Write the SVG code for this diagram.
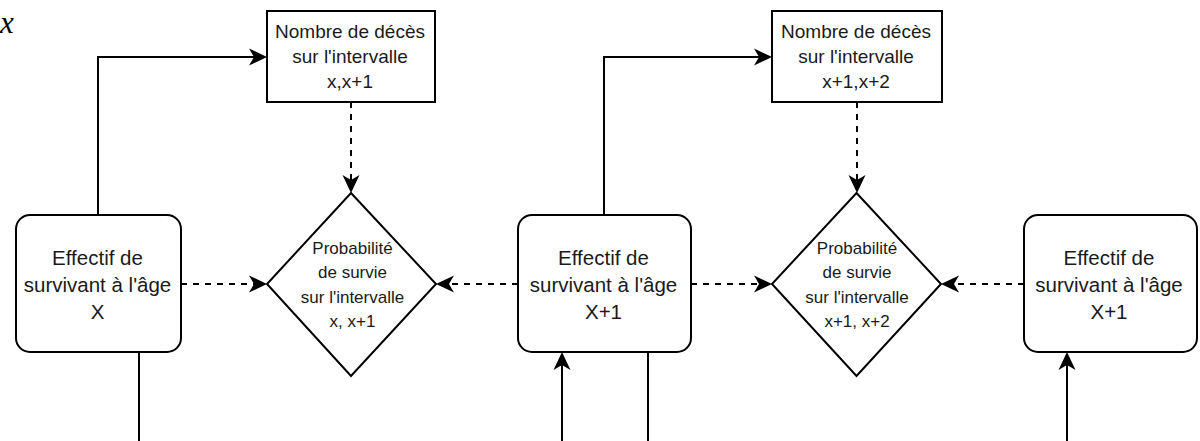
<svg xmlns="http://www.w3.org/2000/svg" width="1200" height="441" viewBox="0 0 1200 441">
<style>
  .shape { fill: #ffffff; stroke: #000000; stroke-width: 2; }
  .lbl { font-family: "Liberation Sans", Arial, sans-serif; fill: #1a1a1a; text-anchor: middle; }
  .big { font-size: 20.5px; }
  .mid { font-size: 19px; }
  .small { font-size: 17px; }
  .edge { fill: none; stroke: #000000; stroke-width: 2; }
  .dash { stroke-dasharray: 6 6; }
</style>
<defs>
  <marker id="arrow" markerUnits="userSpaceOnUse" markerWidth="24" markerHeight="24" viewBox="-2 -12 24 24" refX="12" refY="0" orient="auto" overflow="visible">
    <path d="M0,-8.5 L18,0 L0,8.5 L5,0 Z" fill="#000000" stroke="none"/>
  </marker>
</defs>
<rect width="1200" height="441" fill="#ffffff"/>

<text x="0" y="33" font-family="Liberation Serif, serif" font-style="italic" font-size="31" fill="#000">x</text>

<g id="connectors">
  <!-- solid up-right to top boxes -->
  <path class="edge" d="M98,215 V57 H261" marker-end="url(#arrow)"/>
  <path class="edge" d="M604,215 V57 H766" marker-end="url(#arrow)"/>
  <!-- dashed down from top boxes to diamonds -->
  <path class="edge dash" d="M351,102 V187" marker-end="url(#arrow)"/>
  <path class="edge dash" d="M857,102 V187" marker-end="url(#arrow)"/>
  <!-- dashed horizontals -->
  <path class="edge dash" d="M181,284 H261" marker-end="url(#arrow)"/>
  <path class="edge dash" d="M518,284 H442" marker-end="url(#arrow)"/>
  <path class="edge dash" d="M691,284 H766" marker-end="url(#arrow)"/>
  <path class="edge dash" d="M1024,284 H947" marker-end="url(#arrow)"/>
  <!-- bottom lines -->
  <path class="edge" d="M139,352 V441"/>
  <path class="edge" d="M562,441 V358" marker-end="url(#arrow)"/>
  <path class="edge" d="M648,352 V441"/>
  <path class="edge" d="M1067,441 V358" marker-end="url(#arrow)"/>
</g>

<g id="box-x">
  <rect class="shape" x="16" y="215" width="165" height="137" rx="14" ry="14"/>
  <text class="lbl big" x="97.5" y="265.3">Effectif de</text>
  <text class="lbl big" x="97.5" y="292.3">survivant à l'âge</text>
  <text class="lbl big" x="97.5" y="319.3">X</text>
</g>

<g id="deces-1">
  <rect class="shape" x="267" y="11" width="168" height="91"/>
  <text class="lbl mid" x="350" y="37.8">Nombre de décès</text>
  <text class="lbl mid" x="350" y="63.3">sur l'intervalle</text>
  <text class="lbl mid" x="350" y="88.3">x,x+1</text>
</g>

<g id="proba-1">
  <polygon class="shape" points="351,193 436,284 351,376 267,284"/>
  <text class="lbl small" x="352.5" y="253.5">Probabilité</text>
  <text class="lbl small" x="352.5" y="278">de survie</text>
  <text class="lbl small" x="352.5" y="302.5">sur l'intervalle</text>
  <text class="lbl small" x="352.5" y="327">x, x+1</text>
</g>

<g id="box-x1">
  <rect class="shape" x="518" y="215" width="173" height="137" rx="14" ry="14"/>
  <text class="lbl big" x="603.5" y="265.3">Effectif de</text>
  <text class="lbl big" x="603.5" y="292.3">survivant à l'âge</text>
  <text class="lbl big" x="603.5" y="319.3">X+1</text>
</g>

<g id="deces-2">
  <rect class="shape" x="772" y="11" width="170" height="91"/>
  <text class="lbl mid" x="856" y="37.8">Nombre de décès</text>
  <text class="lbl mid" x="856" y="63.3">sur l'intervalle</text>
  <text class="lbl mid" x="856" y="88.3">x+1,x+2</text>
</g>

<g id="proba-2">
  <polygon class="shape" points="856.5,193 941,284 856.5,376 772,284"/>
  <text class="lbl small" x="857" y="253.5">Probabilité</text>
  <text class="lbl small" x="857" y="278">de survie</text>
  <text class="lbl small" x="857" y="302.5">sur l'intervalle</text>
  <text class="lbl small" x="857" y="327">x+1, x+2</text>
</g>

<g id="box-x1-right">
  <rect class="shape" x="1024" y="215" width="173" height="137" rx="14" ry="14"/>
  <text class="lbl big" x="1109" y="265.3">Effectif de</text>
  <text class="lbl big" x="1109" y="292.3">survivant à l'âge</text>
  <text class="lbl big" x="1109" y="319.3">X+1</text>
</g>
</svg>
